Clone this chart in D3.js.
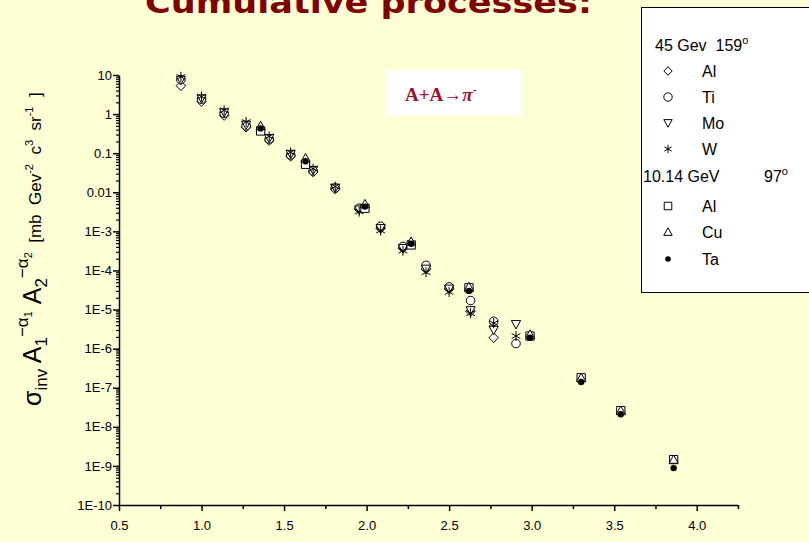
<!DOCTYPE html>
<html>
<head>
<meta charset="utf-8">
<script src="https://cdn.jsdelivr.net/npm/d3@7"></script>
<style>
  html, body { margin: 0; padding: 0; background: #FFFFD5; }
  svg { display: block; }
  .pre { white-space: pre; }
</style>
</head>
<body>
<script>
// x = transverse-momentum-like variable, y = normalised invariant cross section
const xHigh = [0.875, 1.00, 1.137, 1.27, 1.41, 1.54, 1.676, 1.81, 1.955, 2.085, 2.22, 2.36, 2.50, 2.63, 2.77, 2.905];
const alHigh = [5.3, 2.1, 0.92, 0.46, 0.21, 0.083, 0.033, 0.0122, 3.7e-3, 1.2e-3, 3.7e-4, 1.1e-4, 3.4e-5, 9.0e-6, 1.9e-6, null];
const tiHigh = [7.6, 2.4, 1.05, 0.50, 0.23, 0.090, 0.035, 0.0128, 3.9e-3, 1.35e-3, 4.1e-4, 1.35e-4, 3.8e-5, 1.7e-5, 5.0e-6, 1.35e-6];
const moHigh = [7.5, 2.5, 1.10, 0.53, 0.24, 0.095, 0.037, 0.013, 3.6e-3, 1.2e-3, 3.7e-4, 1.1e-4, 3.4e-5, 9.5e-6, 3.0e-6, 4.2e-6];
const wHigh  = [9.0, 2.8, 1.25, 0.63, 0.27, 0.105, 0.040, 0.014, 3.2e-3, 1.05e-3, 3.2e-4, 9.0e-5, 2.8e-5, 8.0e-6, 4.5e-6, 2.1e-6];

const xLow  = [1.358, 1.63, 1.99, 2.27, 2.62, 2.99, 3.30, 3.54, 3.86];
const alLow = [0.37, 0.052, 3.9e-3, 4.5e-4, 3.6e-5, 2.1e-6, 1.8e-7, 2.6e-8, 1.45e-9];
const cuLow = [0.50, 0.075, 5.0e-3, 5.5e-4, 3.8e-5, 2.3e-6, 1.8e-7, 2.6e-8, 1.45e-9];
const taLow = [0.43, 0.062, 4.3e-3, 4.8e-4, 3.0e-5, 1.9e-6, 1.4e-7, 2.1e-8, 8.8e-10];

const xTicks = [0.5, 1.0, 1.5, 2.0, 2.5, 3.0, 3.5, 4.0];
const xMinorTicks = [0.75, 1.25, 1.75, 2.25, 2.75, 3.25, 3.75, 4.25];
const yTicks = [10, 1, 0.1, 0.01, 1e-3, 1e-4, 1e-5, 1e-6, 1e-7, 1e-8, 1e-9, 1e-10];
const yTickLabels = ["10", "1", "0.1", "0.01", "1E-3", "1E-4", "1E-5", "1E-6", "1E-7", "1E-8", "1E-9", "1E-10"];

const W = 809, H = 542;
const svg = d3.select("body").append("svg").attr("width", W).attr("height", H);
svg.append("rect").attr("width", W).attr("height", H).attr("fill", "#FFFFD5");

const x = d3.scaleLinear().domain([0.5, 4.25]).range([119, 738]);
const y = d3.scaleLog().domain([1e-10, 10]).range([505, 75]);

// title, running off the top of the page
svg.append("text")
  .attr("x", 145).attr("y", 13)
  .attr("textLength", 447).attr("lengthAdjust", "spacingAndGlyphs")
  .attr("font-family", "DejaVu Sans").attr("font-weight", "bold")
  .attr("font-size", 30).attr("fill", "#800000")
  .text("Cumulative processes:");

const font = "Liberation Sans, Arial, sans-serif";

// x axis
const xAxis = d3.axisBottom(x).tickValues(xTicks).tickFormat(d3.format(".1f")).tickSize(6).tickSizeOuter(0);
const gx = svg.append("g").attr("transform", "translate(0,505)").call(xAxis);
gx.select(".domain").attr("stroke", "#000").attr("stroke-width", 1.5);
gx.selectAll(".tick line").attr("stroke-width", 1.5);
gx.selectAll(".tick text").attr("font-family", font).attr("font-size", 13).attr("dy", "1.25em").attr("fill", "#000");
const gxm = svg.append("g").attr("transform", "translate(0,505)")
  .call(d3.axisBottom(x).tickValues(xMinorTicks).tickFormat("").tickSize(4).tickSizeOuter(0));
gxm.select(".domain").remove();
gxm.selectAll(".tick line").attr("stroke-width", 1.5);

// y axis: decades plus log minor ticks
const yAxis = d3.axisLeft(y).tickValues(yTicks).tickFormat((d, i) => yTickLabels[i]).tickSize(6).tickSizeOuter(0);
const gy = svg.append("g").attr("transform", "translate(119,0)").call(yAxis);
gy.select(".domain").attr("stroke", "#000").attr("stroke-width", 1.5);
gy.selectAll(".tick line").attr("stroke-width", 1.5);
gy.selectAll(".tick text").attr("font-family", font).attr("font-size", 13).attr("x", -7).attr("fill", "#000");
const yMinor = [];
for (let e = -10; e < 1; e++) for (let m = 2; m <= 9; m++) yMinor.push(m * Math.pow(10, e));
const gym = svg.append("g").attr("transform", "translate(119,0)")
  .call(d3.axisLeft(y).tickValues(yMinor).tickFormat("").tickSize(3).tickSizeOuter(0));
gym.select(".domain").remove();
gym.selectAll(".tick line").attr("stroke-width", 1.2);

// y axis title
const yt = svg.append("text").attr("class", "pre")
  .attr("transform", "translate(41,406) rotate(-90)")
  .attr("font-family", font).attr("fill", "#000");
const big = 25, mid = 17, small = 11;
yt.append("tspan").attr("font-size", big).text("σ");
yt.append("tspan").attr("font-size", mid).attr("dy", 6).text("inv");
yt.append("tspan").attr("font-size", big).attr("dy", -6).text(" A");
yt.append("tspan").attr("font-size", mid).attr("dy", 6).text("1");
yt.append("tspan").attr("font-size", mid).attr("dy", -19).text("−α");
yt.append("tspan").attr("font-size", small).attr("dy", 4).text("1");
yt.append("tspan").attr("font-size", big).attr("dy", 9).text(" A");
yt.append("tspan").attr("font-size", mid).attr("dy", 6).text("2");
yt.append("tspan").attr("font-size", mid).attr("dy", -19).text("−α");
yt.append("tspan").attr("font-size", small).attr("dy", 4).text("2");
yt.append("tspan").attr("font-size", mid).attr("dy", 9).text("  [mb  Gev");
yt.append("tspan").attr("font-size", small).attr("dy", -8).text("-2");
yt.append("tspan").attr("font-size", mid).attr("dy", 8).text("  c");
yt.append("tspan").attr("font-size", small).attr("dy", -8).text("3");
yt.append("tspan").attr("font-size", mid).attr("dy", 8).text("  sr");
yt.append("tspan").attr("font-size", small).attr("dy", -8).text("-1");
yt.append("tspan").attr("font-size", mid).attr("dy", 8).text("  ]");

// marker shapes
function shapePath(type, s) {
  switch (type) {
    case "diamond": return `M0,${-s}L${s},0L0,${s}L${-s},0Z`;
    case "circle":
    case "dot": return `M${s},0A${s},${s},0,1,1,${-s},0A${s},${s},0,1,1,${s},0Z`;
    case "triDown": return `M${-s},${-s * 0.8}L${s},${-s * 0.8}L0,${s}Z`;
    case "triUp": return `M${-s},${s * 0.8}L${s},${s * 0.8}L0,${-s}Z`;
    case "square": { const q = s * 0.9; return `M${-q},${-q}H${q}V${q}H${-q}Z`; }
    case "star": {
      const d = s * 0.87, h = s * 0.5;
      return `M0,${-s}L0,${s}M${-d},${-h}L${d},${h}M${-d},${h}L${d},${-h}`;
    }
  }
}
function styleMarker(sel, type) {
  if (type === "dot") sel.attr("fill", "#000").attr("stroke", "none");
  else if (type === "star") sel.attr("fill", "none").attr("stroke", "#000").attr("stroke-width", 1);
  else sel.attr("fill", "#fff").attr("stroke", "#000").attr("stroke-width", 1);
}

const series = [
  { name: "Al", type: "diamond", xs: xHigh, ys: alHigh, size: 4.8 },
  { name: "Ti", type: "circle", xs: xHigh, ys: tiHigh, size: 4.3 },
  { name: "Mo", type: "triDown", xs: xHigh, ys: moHigh, size: 4.6 },
  { name: "W", type: "star", xs: xHigh, ys: wHigh, size: 5 },
  { name: "Al", type: "square", xs: xLow, ys: alLow, size: 4.6 },
  { name: "Cu", type: "triUp", xs: xLow, ys: cuLow, size: 4.6 },
  { name: "Ta", type: "dot", xs: xLow, ys: taLow, size: 3.2 }
];

const plot = svg.append("g");
series.forEach(sr => {
  const pts = sr.xs.map((v, i) => ({ x: v, y: sr.ys[i] })).filter(p => p.y != null);
  const sel = plot.append("g").selectAll("path").data(pts).join("path")
    .attr("transform", p => `translate(${x(p.x)},${y(p.y)})`)
    .attr("d", shapePath(sr.type, sr.size));
  styleMarker(sel, sr.type);
});

// reaction label
svg.append("rect").attr("x", 386).attr("y", 70).attr("width", 135).attr("height", 46).attr("fill", "#fff");
const rl = svg.append("text").attr("x", 405).attr("y", 101)
  .attr("font-family", "Liberation Serif, Times New Roman, serif").attr("font-weight", "bold")
  .attr("font-size", 19).attr("fill", "#A01030");
rl.append("tspan").text("A+A→");
rl.append("tspan").attr("font-style", "italic").text("π");
rl.append("tspan").attr("font-size", 12).attr("dy", -7).text("-");

// legend
const lg = svg.append("g");
lg.append("rect").attr("x", 641.5).attr("y", 7.5).attr("width", 200).attr("height", 285)
  .attr("fill", "#fff").attr("stroke", "#000").attr("stroke-width", 1);
function header(xp, yp, parts) {
  const t = lg.append("text").attr("class", "pre").attr("x", xp).attr("y", yp)
    .attr("font-family", font).attr("font-size", 16).attr("fill", "#000");
  parts.forEach(p => {
    const ts = t.append("tspan").text(p.t);
    if (p.sup) ts.attr("font-size", 11).attr("dy", -7);
    if (p.x != null) ts.attr("x", p.x);
  });
}
header(655, 51, [{ t: "45 Gev  159" }, { t: "o", sup: true }]);
header(643, 182, [{ t: "10.14 GeV" }, { t: "97", x: 764 }, { t: "o", sup: true }]);

const legendRows = [
  { s: 0, y: 71 }, { s: 1, y: 97 }, { s: 2, y: 123 }, { s: 3, y: 149 },
  { s: 4, y: 206 }, { s: 5, y: 232 }, { s: 6, y: 259 }
];
legendRows.forEach(r => {
  const sr = series[r.s];
  const m = lg.append("path").attr("transform", `translate(668,${r.y})`)
    .attr("d", shapePath(sr.type, sr.type === "dot" ? 2.8 : 4.2));
  styleMarker(m, sr.type);
  lg.append("text").attr("x", 702).attr("y", r.y + 6).attr("font-family", font)
    .attr("font-size", 16).attr("fill", "#000").text(sr.name);
});
</script>
</body>
</html>
